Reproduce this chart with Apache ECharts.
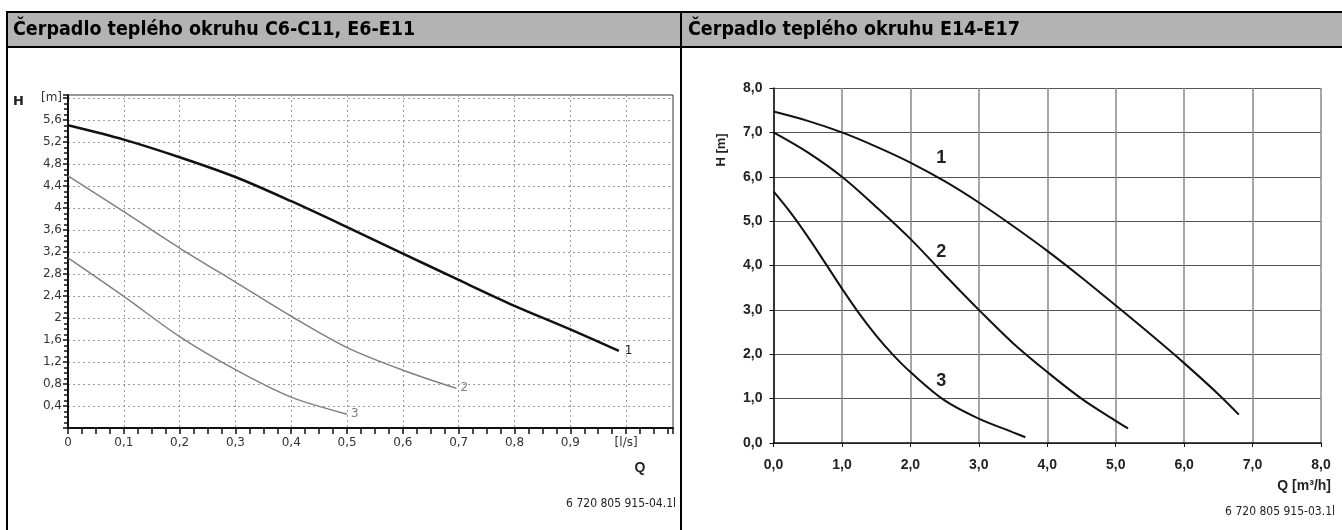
<!DOCTYPE html>
<html>
<head>
<meta charset="utf-8">
<title>Čerpadlo teplého okruhu</title>
<script src="https://cdn.jsdelivr.net/npm/echarts@6/dist/echarts.min.js"></script>
<style>
  html, body { margin: 0; padding: 0; background: #fff; }
  #chart { width: 1342px; height: 530px; }
</style>
</head>
<body>
<div id="chart"></div>
<script>
// levý graf: C6-C11, E6-E11 (Q v l/s, H v m)
const leftQ1 = [0, 0.1, 0.2, 0.3, 0.4, 0.5, 0.6, 0.7, 0.8, 0.9, 0.987];
const leftH1 = [5.5, 5.24, 4.92, 4.56, 4.12, 3.65, 3.17, 2.69, 2.22, 1.79, 1.4];
const leftQ2 = [0, 0.1, 0.2, 0.3, 0.4, 0.5, 0.6, 0.696];
const leftH2 = [4.58, 3.93, 3.27, 2.65, 2.03, 1.46, 1.05, 0.72];
const leftQ3 = [0, 0.1, 0.2, 0.3, 0.4, 0.5];
const leftH3 = [3.09, 2.39, 1.66, 1.06, 0.56, 0.25];

// pravý graf: E14-E17 (Q v m3/h, H v m)
const rightQ1 = [0, 0.5, 1, 1.5, 2, 2.5, 3, 3.5, 4, 4.5, 5, 5.5, 6, 6.5, 6.8];
const rightH1 = [7.47, 7.26, 7.0, 6.68, 6.32, 5.9, 5.42, 4.89, 4.33, 3.73, 3.1, 2.46, 1.8, 1.1, 0.64];
const rightQ2 = [0, 0.5, 1, 1.5, 2, 2.5, 3, 3.5, 4, 4.5, 5, 5.18];
const rightH2 = [7.0, 6.55, 6.0, 5.32, 4.6, 3.79, 3.0, 2.25, 1.6, 1.0, 0.5, 0.33];
const rightQ3 = [0, 0.25, 0.5, 0.75, 1, 1.25, 1.5, 1.75, 2, 2.5, 3, 3.5, 3.68];
const rightH3 = [5.67, 5.19, 4.65, 4.07, 3.48, 2.92, 2.42, 1.98, 1.6, 0.96, 0.55, 0.24, 0.13];
const curveNames = ['1', '2', '3'];
// místa popisků křivek v pravém grafu [Q, H]
const rightLabelAt = [[2.45, 6.43], [2.45, 4.31], [2.45, 1.4]];

const titles = ['Čerpadlo teplého okruhu C6-C11, E6-E11', 'Čerpadlo teplého okruhu E14-E17'];
const codes = ['6 720 805 915-04.1l', '6 720 805 915-03.1l'];

const pairs = (xs, ys) => xs.map((x, i) => [x, ys[i]]);
const onStep = (v, step) => Math.abs(v / step - Math.round(v / step)) < 1e-6;
const comma = (v, d) => v.toFixed(d).replace('.', ',');

const narrow = "'Liberation Sans Narrow', 'DejaVu Sans Condensed', sans-serif";
const verdana = "'DejaVu Sans', Verdana, sans-serif";
const arial = "'Liberation Sans', Arial, sans-serif";

const chart = echarts.init(document.getElementById('chart'), null, { renderer: 'canvas' });

const dotted = { color: '#9a9a9a', width: 1, type: [2, 3] };

function rightSeries(i, q, h) {
  return {
    type: 'line', xAxisIndex: 1, yAxisIndex: 1, data: pairs(q, h),
    smooth: 0.35, symbol: 'none', lineStyle: { color: '#111', width: 2 },
    markPoint: {
      symbol: 'circle', symbolSize: 1, silent: true,
      itemStyle: { color: 'rgba(0,0,0,0)' },
      label: {
        show: true, position: 'inside', formatter: curveNames[i],
        color: '#222', fontFamily: arial, fontWeight: 'bold', fontSize: 18
      },
      data: [{ coord: rightLabelAt[i] }]
    }
  };
}

chart.setOption({
  animation: false,
  backgroundColor: '#fff',
  grid: [
    { left: 68, top: 95, width: 605, height: 333, show: true, borderColor: '#333', borderWidth: 1 },
    { left: 773.5, top: 88, width: 547.5, height: 355 }
  ],
  xAxis: [
    {
      gridIndex: 0, type: 'value', min: 0, max: 1.084, interval: 0.1,
      axisLine: { show: true, onZero: false, lineStyle: { color: '#111', width: 2 } },
      axisTick: { show: true, length: 6, lineStyle: { color: '#111', width: 1.5 } },
      minorTick: { show: true, splitNumber: 4, length: 6, lineStyle: { color: '#111', width: 1.5 } },
      splitLine: { show: true, lineStyle: dotted },
      axisLabel: {
        margin: 9, color: '#333', fontFamily: verdana, fontSize: 12,
        formatter: v => {
          if (v === 0) return '0';
          if (Math.abs(v - 1) < 1e-6) return '[l/s]';
          return onStep(v, 0.1) ? comma(v, 1) : '';
        }
      }
    },
    {
      gridIndex: 1, type: 'value', min: 0, max: 8, interval: 1,
      axisLine: { show: true, onZero: false, lineStyle: { color: '#111', width: 1.5 } },
      axisTick: { show: true, length: 4, lineStyle: { color: '#111' } },
      splitLine: { show: true, lineStyle: { color: '#888', width: 1.5 } },
      axisLabel: {
        margin: 15, color: '#222', fontFamily: arial, fontWeight: 'bold', fontSize: 14,
        formatter: v => comma(v, 1)
      }
    }
  ],
  yAxis: [
    {
      gridIndex: 0, type: 'value', min: 0, max: 6.05, interval: 0.4,
      name: 'H', nameLocation: 'end', nameGap: 0,
      nameTextStyle: {
        fontFamily: verdana, fontWeight: 'bold', fontSize: 13, color: '#222',
        align: 'right', verticalAlign: 'top', padding: [0, 44, 0, 0]
      },
      axisLine: { show: true, onZero: false, lineStyle: { color: '#111', width: 2 } },
      axisTick: { show: true, length: 5, lineStyle: { color: '#111', width: 1.5 } },
      minorTick: { show: true, splitNumber: 4, length: 4, lineStyle: { color: '#111', width: 1.5 } },
      splitLine: { show: true, lineStyle: dotted },
      axisLabel: {
        margin: 6, color: '#333', fontFamily: verdana, fontSize: 12,
        formatter: v => {
          if (v === 0) return '';
          if (Math.abs(v - 6) < 1e-6) return '[m]';
          if (!onStep(v, 0.4)) return '';
          return String(+v.toFixed(1)).replace('.', ',');
        }
      }
    },
    {
      gridIndex: 1, type: 'value', min: 0, max: 8, interval: 1,
      axisLine: { show: true, onZero: false, lineStyle: { color: '#111', width: 1.5 } },
      axisTick: { show: true, length: 4, lineStyle: { color: '#111' } },
      splitLine: { show: true, lineStyle: { color: '#555', width: 1 } },
      axisLabel: {
        margin: 11, color: '#222', fontFamily: arial, fontWeight: 'bold', fontSize: 14,
        formatter: v => comma(v, 1)
      }
    }
  ],
  series: [
    {
      type: 'line', xAxisIndex: 0, yAxisIndex: 0, data: pairs(leftQ1, leftH1),
      smooth: 0.3, symbol: 'none', lineStyle: { color: '#111', width: 2.5 },
      endLabel: { show: true, formatter: curveNames[0], color: '#222', fontFamily: verdana, fontSize: 12, distance: 6 }
    },
    {
      type: 'line', xAxisIndex: 0, yAxisIndex: 0, data: pairs(leftQ2, leftH2),
      smooth: 0.3, symbol: 'none', lineStyle: { color: '#808080', width: 1.5 },
      endLabel: { show: true, formatter: curveNames[1], color: '#808080', fontFamily: verdana, fontSize: 12, distance: 4 }
    },
    {
      type: 'line', xAxisIndex: 0, yAxisIndex: 0, data: pairs(leftQ3, leftH3),
      smooth: 0.3, symbol: 'none', lineStyle: { color: '#808080', width: 1.5 },
      endLabel: { show: true, formatter: curveNames[2], color: '#808080', fontFamily: verdana, fontSize: 12, distance: 4 }
    },
    rightSeries(0, rightQ1, rightH1),
    rightSeries(1, rightQ2, rightH2),
    rightSeries(2, rightQ3, rightH3)
  ],
  graphic: [
    // záhlaví tabulky
    { type: 'rect', shape: { x: 6, y: 12, width: 1336, height: 35 }, style: { fill: '#b3b3b3' }, silent: true },
    { type: 'rect', shape: { x: 6, y: 11, width: 1336, height: 2 }, style: { fill: '#000' }, silent: true },
    { type: 'rect', shape: { x: 6, y: 46, width: 1336, height: 2 }, style: { fill: '#000' }, silent: true },
    { type: 'rect', shape: { x: 6, y: 11, width: 2, height: 519 }, style: { fill: '#000' }, silent: true },
    { type: 'rect', shape: { x: 680, y: 11, width: 2, height: 519 }, style: { fill: '#000' }, silent: true },
    { type: 'text', x: 13, y: 30, style: { text: titles[0], font: "bold 19.5px " + narrow, fill: '#000', verticalAlign: 'middle' } },
    { type: 'text', x: 688, y: 30, style: { text: titles[1], font: "bold 19.5px " + narrow, fill: '#000', verticalAlign: 'middle' } },
    // popisky os a kódy obrázků
    { type: 'text', x: 640, y: 468, style: { text: 'Q', font: "bold 14px " + arial, fill: '#222', align: 'center', verticalAlign: 'middle' } },
    { type: 'text', x: 676, y: 504, style: { text: codes[0], font: "12px " + narrow, fill: '#222', align: 'right', verticalAlign: 'middle' } },
    { type: 'text', x: 721, y: 150, rotation: Math.PI / 2, style: { text: 'H [m]', font: "bold 13px " + arial, fill: '#222', align: 'center', verticalAlign: 'middle' } },
    { type: 'text', x: 1331, y: 486, style: { text: 'Q [m³/h]', font: "bold 14px " + arial, fill: '#222', align: 'right', verticalAlign: 'middle' } },
    { type: 'text', x: 1335, y: 512, style: { text: codes[1], font: "12px " + narrow, fill: '#222', align: 'right', verticalAlign: 'middle' } }
  ]
});
</script>
</body>
</html>
